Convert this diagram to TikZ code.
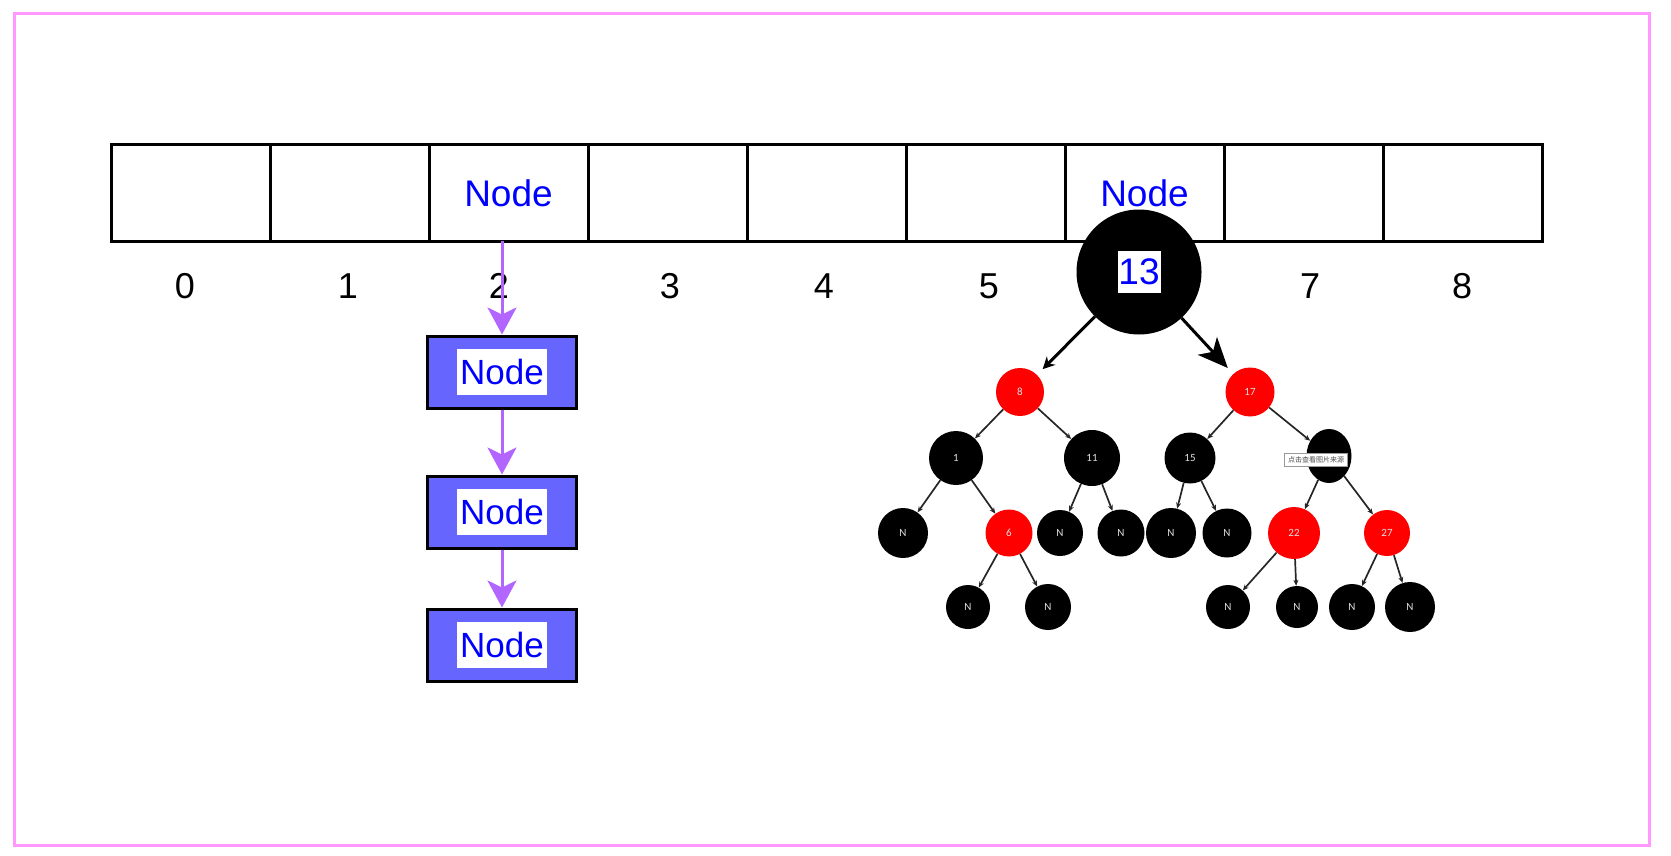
\documentclass[tikz,border=0pt]{standalone}
\usepackage{fontspec}
\setmainfont{Liberation Sans}
\newfontfamily\treefont{Carlito}
\newfontfamily\cjkfont{Noto Sans CJK SC}
\usetikzlibrary{shapes.geometric,arrows.meta,calc,positioning}

\definecolor{nodeblue}{HTML}{0000FF}
\definecolor{boxfill}{HTML}{6666FF}
\definecolor{linkpurple}{HTML}{B266FF}
\definecolor{framepink}{HTML}{FF99FF}
\definecolor{rbred}{HTML}{FF0000}

\begin{document}
\begin{tikzpicture}[x=1pt, y=-1pt,
    cell/.style={draw, line width=3pt, minimum width=159pt, minimum height=96pt, inner sep=0pt, outer sep=0pt, text=nodeblue, font=\fontsize{37}{40}\selectfont},
    idx/.style={font=\fontsize{36}{40}\selectfont},
    box/.style={draw, line width=3pt, fill=boxfill, minimum width=149pt, minimum height=72pt, inner sep=0pt},
    tag/.style={fill=white, text=nodeblue, minimum width=90pt, minimum height=46pt, inner sep=0pt, font=\fontsize{35}{40}\selectfont},
    link/.style={linkpurple, line width=3pt, -{Stealth[length=27pt,width=29pt,inset=7pt]}},
    rb/.style={circle, inner sep=0pt, text=white!88!black, font=\treefont\fontsize{11}{12}\selectfont},
    blk/.style={rb, fill=black},
    rbr/.style={rb, fill=rbred},
    treeline/.style={draw=black!85, line width=1.7pt, -{Stealth[length=6pt,width=5pt]}},
    rootarrow/.style={line width=3pt, shorten >=8pt}
  ]
    \useasboundingbox (0,0) rectangle (1671,856);
    \draw[framepink, line width=3pt] (14,14) rectangle (1649,845);

    \node[cell] (c0) at (190.5,193) {};
    \node[cell, right=0pt of c0] (c1) {};
    \node[cell, right=0pt of c1] (c2) {Node};
    \node[cell, right=0pt of c2] (c3) {};
    \node[cell, right=0pt of c3] (c4) {};
    \node[cell, right=0pt of c4] (c5) {};
    \node[cell, right=0pt of c5] (c6) {Node};
    \node[cell, right=0pt of c6] (c7) {};
    \node[cell, right=0pt of c7] (c8) {};

    \node[idx] (i0) at (185,286) {0};
    \node[idx] (i1) at (348,286) {1};
    \node[idx] (i2) at (499,286) {2};
    \node[idx] (i3) at (670,286) {3};
    \node[idx] (i4) at (824,286) {4};
    \node[idx] (i5) at (989,286) {5};
    \node[idx] (i7) at (1310,286) {7};
    \node[idx] (i8) at (1462,286) {8};

    \node[box] (box1) at (502,372) {};
    \node[box, below=65pt of box1] (box2) {};
    \node[box, below=58pt of box2] (box3) {};
    \node[tag] (t1) at (box1) {Node};
    \node[tag] (t2) at (box2) {Node};
    \node[tag] (t3) at (box3) {Node};
    \draw[link] (c2.south -| box1.north) -- (box1.north);
    \draw[link] (box1) -- (box2);
    \draw[link] (box2) -- (box3);

    \node[circle, fill=black, minimum size=125pt, inner sep=0pt] (root) at (1139,272) {};
    \node[fill=white, text=nodeblue, minimum width=43pt, minimum height=42pt, inner sep=0pt, font=\fontsize{37}{40}\selectfont] (rootkey) at (root) {13};

    \node[rbr, minimum size=48pt] (n8) at (1020,392) {8};
    \node[rbr, minimum size=49pt] (n17) at (1250,392) {17};
    \node[blk, minimum size=54pt] (n1) at (956,458) {1};
    \node[blk, minimum size=56pt] (n11) at (1092,458) {11};
    \node[blk, minimum size=51pt] (n15) at (1190,458) {15};
    \node[ellipse, fill=black, minimum width=45pt, minimum height=54pt, inner sep=0pt] (n25) at (1329,456) {};
    \node[blk, minimum size=50pt] (na) at (903,533) {N};
    \node[rbr, minimum size=47pt] (n6) at (1009,533) {6};
    \node[blk, minimum size=46pt] (nb) at (1060,533) {N};
    \node[blk, minimum size=47pt] (nc) at (1121,533) {N};
    \node[blk, minimum size=50pt] (nd) at (1171,533) {N};
    \node[blk, minimum size=49pt] (ne) at (1227,533) {N};
    \node[rbr, minimum size=52pt] (n22) at (1294,533) {22};
    \node[rbr, minimum size=46pt] (n27) at (1387,533) {27};
    \node[blk, minimum size=44pt] (nf) at (968,607) {N};
    \node[blk, minimum size=46pt] (ng) at (1048,607) {N};
    \node[blk, minimum size=44pt] (nh) at (1228,607) {N};
    \node[blk, minimum size=42pt] (ni) at (1297,607) {N};
    \node[blk, minimum size=46pt] (nj) at (1352,607) {N};
    \node[blk, minimum size=50pt] (nk) at (1410,607) {N};

    \draw[treeline] (n8) -- (n1);
    \draw[treeline] (n8) -- (n11);
    \draw[treeline] (n1) -- (na);
    \draw[treeline] (n1) -- (n6);
    \draw[treeline] (n6) -- (nf);
    \draw[treeline] (n6) -- (ng);
    \draw[treeline] (n11) -- (nb);
    \draw[treeline] (n11) -- (nc);
    \draw[treeline] (n17) -- (n15);
    \draw[treeline] (n17) -- (n25);
    \draw[treeline] (n15) -- (nd);
    \draw[treeline] (n15) -- (ne);
    \draw[treeline] (n25) -- (n22);
    \draw[treeline] (n25) -- (n27);
    \draw[treeline] (n22) -- (nh);
    \draw[treeline] (n22) -- (ni);
    \draw[treeline] (n27) -- (nj);
    \draw[treeline] (n27) -- (nk);

    \node[draw=black!40, fill=white, line width=0.6pt, minimum width=63pt, minimum height=13pt, inner sep=0pt, text=black!70, font=\cjkfont\fontsize{7}{8}\selectfont] (tip) at (1316,460) {点击查看图片来源};

    \draw[rootarrow, -{Stealth[length=12pt,width=12pt]}] (root) -- (n8);
    \draw[rootarrow, -{Stealth[length=30pt,width=26pt,inset=8pt]}] (root) -- (n17);
\end{tikzpicture}
\end{document}
